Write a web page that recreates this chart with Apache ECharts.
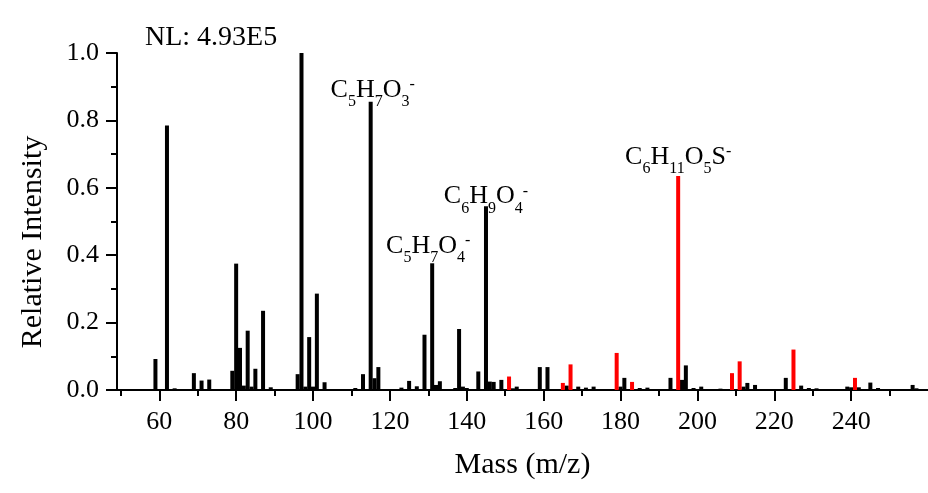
<!DOCTYPE html>
<html>
<head>
<meta charset="utf-8">
<script src="https://cdn.jsdelivr.net/npm/echarts@6/dist/echarts.min.js"></script>
<style>
  html, body { margin: 0; padding: 0; background: #fff; }
  #chart { width: 928px; height: 493px; }
</style>
</head>
<body>
<div id="chart"></div>
<script>
// m/z and relative intensity of the black peaks
const blackMz = [59, 62, 64, 69, 71, 73, 75, 79, 80, 81, 82, 83, 84, 85, 87, 89, 94, 96, 97, 98, 99, 100, 101, 103,
  111, 113, 115, 116, 117, 123, 125, 127, 129, 131, 132, 133, 137, 138, 139, 140, 143, 145, 146, 147, 149,
  152, 153, 158, 159, 161, 163, 166, 169, 171, 173, 177, 180, 181, 185, 187, 193, 196, 197, 199, 201, 203,
  206, 212, 213, 215, 217, 223, 227, 229, 231, 233, 239, 240, 242, 244, 245, 247, 249, 253, 256, 257, 258]
const blackInt = [0.092, 0.785, 0.005, 0.05, 0.028, 0.031, 0.003, 0.057, 0.375, 0.125, 0.013, 0.176, 0.01, 0.063, 0.235, 0.008, 0.003, 0.047, 1.0, 0.01, 0.157, 0.01, 0.286, 0.023,
  0.006, 0.047, 0.855, 0.035, 0.068, 0.007, 0.027, 0.011, 0.164, 0.376, 0.015, 0.026, 0.006, 0.181, 0.01, 0.006, 0.055, 0.545, 0.025, 0.024, 0.03,
  0.005, 0.01, 0.003, 0.068, 0.068, 0.003, 0.013, 0.01, 0.007, 0.01, 0.003, 0.01, 0.036, 0.006, 0.007, 0.036, 0.03, 0.073, 0.006, 0.01, 0.003,
  0.004, 0.01, 0.021, 0.015, 0.003, 0.036, 0.013, 0.006, 0.005, 0.003, 0.01, 0.008, 0.008, 0.003, 0.022, 0.006, 0.003, 0.003, 0.015, 0.005, 0.003]

// red peaks
const redMz = [151, 165, 167, 179, 183, 195, 209, 211, 225, 241]
const redInt = [0.04, 0.021, 0.076, 0.11, 0.024, 0.635, 0.05, 0.085, 0.12, 0.036]

const xLabelTicks = [60, 80, 100, 120, 140, 160, 180, 200, 220, 240]
const xMinorTicks = [50, 70, 90, 110, 130, 150, 170, 190, 210, 230, 250]

// ion formulas as rich text: m = main, s = subscript, p = charge
const ionLabels = {
  115: '{m|C}{s|5}{m|H}{s|7}{m|O}{s|3}{p|-}',
  131: '{m|C}{s|5}{m|H}{s|7}{m|O}{s|4}{p|-}',
  145: '{m|C}{s|6}{m|H}{s|9}{m|O}{s|4}{p|-}',
  195: '{m|C}{s|6}{m|H}{s|11}{m|O}{s|5}{m|S}{p|-}'
}
// label nudges [dx, dy] (styling only)
const labelNudge = { 115: [2, 1], 131: [-4, -4], 145: [0, 3], 195: [0, -6] }

const FONT = '"Liberation Serif", "Times New Roman", serif'

const richStyle = {
  m: { fontSize: 26, lineHeight: 26, verticalAlign: 'top', fontFamily: FONT, color: '#000' },
  s: { fontSize: 16, lineHeight: 16, verticalAlign: 'top', padding: [17, 0, 0, 0], fontFamily: FONT, color: '#000' },
  p: { fontSize: 16, lineHeight: 10, verticalAlign: 'top', fontFamily: FONT, color: '#000' }
}

const buildData = (mz, vals) => mz.map((m, i) => {
  const item = { value: [m, vals[i]] }
  if (ionLabels[m]) {
    item.label = { show: true, offset: labelNudge[m] || [0, 0] }
  }
  return item
})

const barLabel = {
  show: false,
  position: 'top',
  distance: 0,
  formatter: p => ionLabels[p.value[0]] || '',
  rich: richStyle
}

const chart = echarts.init(document.getElementById('chart'))

chart.setOption({
  animation: false,
  backgroundColor: '#fff',
  grid: { left: 117, right: 0, top: 53, bottom: 103 },
  xAxis: [
    {
      type: 'value',
      min: 49,
      max: 260,
      name: 'Mass (m/z)',
      nameLocation: 'middle',
      nameGap: 60,
      nameTextStyle: { fontFamily: FONT, fontSize: 30, color: '#000' },
      axisLine: { show: true, onZero: false, lineStyle: { color: '#000', width: 2 } },
      axisTick: { show: true, length: 11, customValues: xLabelTicks, lineStyle: { color: '#000', width: 2 } },
      axisLabel: { customValues: xLabelTicks, margin: 19, fontFamily: FONT, fontSize: 26, color: '#000' },
      splitLine: { show: false }
    },
    {
      type: 'value',
      min: 49,
      max: 260,
      position: 'bottom',
      axisLine: { show: false },
      axisTick: { show: true, length: 6, customValues: xMinorTicks, lineStyle: { color: '#000', width: 2 } },
      axisLabel: { show: false },
      splitLine: { show: false }
    }
  ],
  yAxis: {
    type: 'value',
    min: 0,
    max: 1,
    interval: 0.2,
    axisLine: { show: true, lineStyle: { color: '#000', width: 2 } },
    axisTick: { show: true, length: 11, lineStyle: { color: '#000', width: 2 } },
    minorTick: { show: true, splitNumber: 2, length: 6, lineStyle: { color: '#000', width: 2 } },
    axisLabel: { margin: 18, fontFamily: FONT, fontSize: 26, color: '#000', formatter: v => v.toFixed(1) },
    splitLine: { show: false }
  },
  graphic: [
    {
      type: 'text',
      left: 145,
      top: 24,
      style: { text: 'NL: 4.93E5', font: '28px ' + FONT, fill: '#000' }
    },
    {
      type: 'text',
      x: 33,
      y: 242,
      rotation: Math.PI / 2,
      style: { text: 'Relative Intensity', font: '30px ' + FONT, fill: '#000', align: 'center', verticalAlign: 'middle' }
    }
  ],
  series: [
    {
      name: 'black',
      type: 'bar',
      barWidth: 4,
      barGap: '-100%',
      itemStyle: { color: '#000' },
      label: barLabel,
      data: buildData(blackMz, blackInt)
    },
    {
      name: 'red',
      type: 'bar',
      barWidth: 4,
      barGap: '-100%',
      itemStyle: { color: '#ff0000' },
      label: barLabel,
      data: buildData(redMz, redInt)
    }
  ]
})
</script>
</body>
</html>
